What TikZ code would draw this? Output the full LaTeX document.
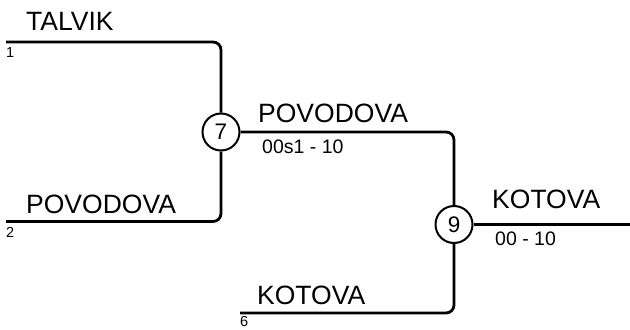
\documentclass[tikz,border=0pt]{standalone}
\usepackage{fontspec}
\setmainfont{Liberation Sans}
\begin{document}
\begin{tikzpicture}[x=1bp,y=1bp,
  wire/.style={line width=2.8bp, rounded corners=8bp},
  junction/.style={circle, draw, line width=2bp, minimum size=37bp, inner sep=0pt, font=\fontsize{22.5bp}{24bp}\selectfont},
  playerlbl/.style={anchor=base west, inner sep=0pt, font=\fontsize{26.5bp}{28bp}\selectfont},
  scorelbl/.style={anchor=base west, inner sep=0pt, font=\fontsize{19.5bp}{22bp}\selectfont},
  seedlbl/.style={anchor=base west, inner sep=0pt, font=\fontsize{14.5bp}{16bp}\selectfont}]
\useasboundingbox (0,0) rectangle (630,329);
% junctions
\node[junction] (c7) at (221,197) {7};
\node[junction] (c9) at (454,104.5) {9};
% line ends
\coordinate (s1) at (6,287);
\coordinate (s2) at (6,107.5);
\coordinate (s6) at (240,16);
\coordinate (eR) at (630,104.5);
% wires
\draw[wire] (s1) -| (c7);
\draw[wire] (s2) -| (c7);
\draw[wire] (c7) -| (c9);
\draw[wire] (s6) -| (c9);
\draw[wire] (c9) -- (eR);
% labels
\node[playerlbl] (t1) at (26,299) {TALVIK};
\node[seedlbl] (n1) at (6,272) {1};
\node[playerlbl] (t2) at (26,116) {POVODOVA};
\node[seedlbl] (n2) at (6,92) {2};
\node[playerlbl] (t7) at (258,207) {POVODOVA};
\node[scorelbl] (r7) at (262,176) {00s1 - 10};
\node[playerlbl] (t6) at (257,25) {KOTOVA};
\node[seedlbl] (n6) at (240,2.5) {6};
\node[playerlbl] (t9) at (492,121) {KOTOVA};
\node[scorelbl] (r9) at (495,84) {00 - 10};
\end{tikzpicture}
\end{document}
